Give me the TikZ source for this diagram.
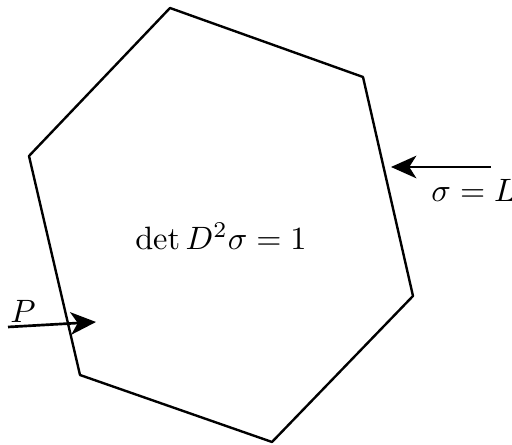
\documentclass[tikz,border=0pt]{standalone}
\usetikzlibrary{arrows.meta}

\begin{document}
\begin{tikzpicture}[x=0.0125cm,y=-0.0125cm,
    every node/.style={scale=1.15},
    edge/.style={line width=0.85pt, line join=round},
    pointer/.style={line width=0.95pt, -{Stealth[length=9pt,width=8pt,inset=2.5pt]}}]
    \useasboundingbox (0,0) rectangle (512,445);

    % Hexagon corners
    \coordinate (v1) at (170,8);
    \coordinate (v2) at (363,77);
    \coordinate (v3) at (413,296);
    \coordinate (v4) at (272,442);
    \coordinate (v5) at (80,375);
    \coordinate (v6) at (29,156);
    \draw[edge] (v1) -- (v2) -- (v3) -- (v4) -- (v5) -- (v6) -- cycle;

    % Equation inside
    \node (eq) at (221,236) {$\det D^2\sigma = 1$};

    % Boundary value
    \coordinate (Lstart) at (491,167);
    \coordinate (Lend) at (391,167);
    \draw[pointer] (Lstart) -- (Lend);
    \node[anchor=west] (Llabel) at (420,190) {$\sigma = L$};

    % Point P
    \coordinate (Pstart) at (8,327);
    \coordinate (Pend) at (96,322);
    \draw[pointer] (Pstart) -- (Pend);
    \node (Plabel) at (23,311) {$P$};
\end{tikzpicture}
\end{document}
